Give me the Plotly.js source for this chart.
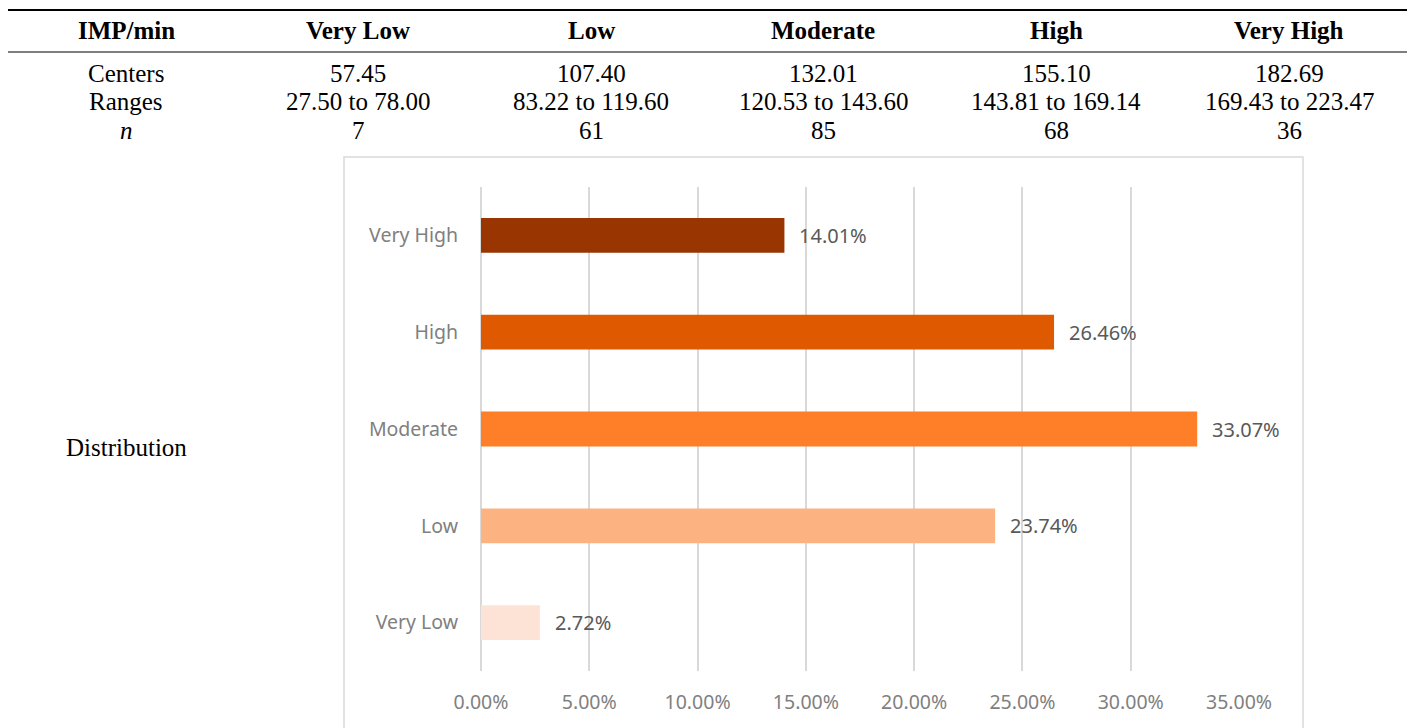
<!DOCTYPE html>
<html>
<head>
<meta charset="utf-8">
<script src="https://cdn.plot.ly/plotly-3.0.1.min.js"></script>
<style>
  html, body { margin: 0; padding: 0; background: #ffffff; }
  #chart { width: 1407px; height: 728px; }
</style>
</head>
<body>
<div id="chart"></div>
<script>
// ---- Data ----
const headerLabels = ["IMP/min", "Very Low", "Low", "Moderate", "High", "Very High"];
const rowLabels = ["Centers", "Ranges", "<i>n</i>"];
const centers = ["57.45", "107.40", "132.01", "155.10", "182.69"];
const ranges = ["27.50 to 78.00", "83.22 to 119.60", "120.53 to 143.60", "143.81 to 169.14", "169.43 to 223.47"];
const counts = ["7", "61", "85", "68", "36"];
const distLabel = "Distribution";

const categories = ["Very Low", "Low", "Moderate", "High", "Very High"];
const shares = [0.0272, 0.2374, 0.3307, 0.2646, 0.1401];
const barColors = ["#FDE3D6", "#FDB282", "#FE7F28", "#DF5900", "#993500"];
const xTicks = [0, 0.05, 0.10, 0.15, 0.20, 0.25, 0.30, 0.35];

// ---- Layout geometry (pixels) ----
const W = 1407, H = 728;
const plotL = 481, plotR = 1239, plotT = 187, plotB = 671;
const pw = plotR - plotL, ph = plotB - plotT;
const px = v => (v - plotL) / pw;           // pixel -> paper x
const py = v => (plotB - v) / ph;           // pixel -> paper y

const colX = [126, 358, 591, 823, 1056, 1289];
const headerY = 31;
const rowYs = [73, 102, 131];
const serif = "Liberation Serif, Times New Roman, serif";
const sans = "Noto Sans, Open Sans, sans-serif";
const tSize = 25;

const annotations = [];
// header
headerLabels.forEach((t, i) => annotations.push({
  text: "<b>" + t + "</b>", xref: "paper", yref: "paper",
  x: px(colX[i]), y: py(headerY), xanchor: "center", yanchor: "middle",
  showarrow: false, font: {family: serif, size: tSize, color: "#000000"}
}));
// rows
const rowData = [centers, ranges, counts];
rowLabels.forEach((lab, r) => {
  annotations.push({
    text: lab, xref: "paper", yref: "paper",
    x: px(colX[0]), y: py(rowYs[r]), xanchor: "center", yanchor: "middle",
    showarrow: false, font: {family: serif, size: tSize, color: "#000000"}
  });
  rowData[r].forEach((v, i) => annotations.push({
    text: v, xref: "paper", yref: "paper",
    x: px(colX[i + 1]), y: py(rowYs[r]), xanchor: "center", yanchor: "middle",
    showarrow: false, font: {family: serif, size: tSize, color: "#000000"}
  }));
});
annotations.push({
  text: distLabel, xref: "paper", yref: "paper",
  x: px(colX[0]), y: py(448), xanchor: "center", yanchor: "middle",
  showarrow: false, font: {family: serif, size: tSize, color: "#000000"}
});
// data labels
categories.forEach((c, i) => annotations.push({
  text: (shares[i] * 100).toFixed(2) + "%", xref: "x", yref: "y",
  x: shares[i], y: c, xanchor: "left", yanchor: "middle", xshift: 13,
  showarrow: false, font: {family: sans, size: 20, color: "#595959"}
}));

const shapes = [
  {type: "line", xref: "paper", yref: "paper", x0: px(8), x1: px(1407), y0: py(10), y1: py(10),
   line: {color: "#000000", width: 2}},
  {type: "line", xref: "paper", yref: "paper", x0: px(8), x1: px(1407), y0: py(52), y1: py(52),
   line: {color: "#000000", width: 1.2}},
  {type: "rect", xref: "paper", yref: "paper", x0: px(344), x1: px(1303), y0: py(157), y1: py(740),
   line: {color: "#D9D9D9", width: 1.5}, fillcolor: "rgba(0,0,0,0)", layer: "below"}
];

const trace = {
  type: "bar", orientation: "h",
  x: shares, y: categories,
  marker: {color: barColors, line: {width: 0}},
  width: 0.36,
  hoverinfo: "x+y",
  cliponaxis: false
};

const layout = {
  width: W, height: H,
  margin: {l: plotL, r: W - plotR, t: plotT, b: H - plotB, pad: 0},
  paper_bgcolor: "#ffffff", plot_bgcolor: "#ffffff",
  showlegend: false,
  xaxis: {
    range: [0, 0.35], tickvals: xTicks, tickformat: ".2%",
    showgrid: true, gridcolor: "#D9D9D9", gridwidth: 2,
    zeroline: true, zerolinecolor: "#D9D9D9", zerolinewidth: 2,
    showline: false, ticks: "",
    ticklabelstandoff: 17,
    tickfont: {family: sans, size: 19.5, color: "#808080"},
    fixedrange: true
  },
  yaxis: {
    type: "category", categoryorder: "array", categoryarray: categories,
    range: [-0.5, 4.5],
    showgrid: false, zeroline: false, showline: false, ticks: "",
    ticklabelstandoff: 22,
    tickfont: {family: sans, size: 19.5, color: "#808080"},
    fixedrange: true
  },
  annotations: annotations,
  shapes: shapes
};

Plotly.newPlot("chart", [trace], layout, {displayModeBar: false, staticPlot: true});
</script>
</body>
</html>
